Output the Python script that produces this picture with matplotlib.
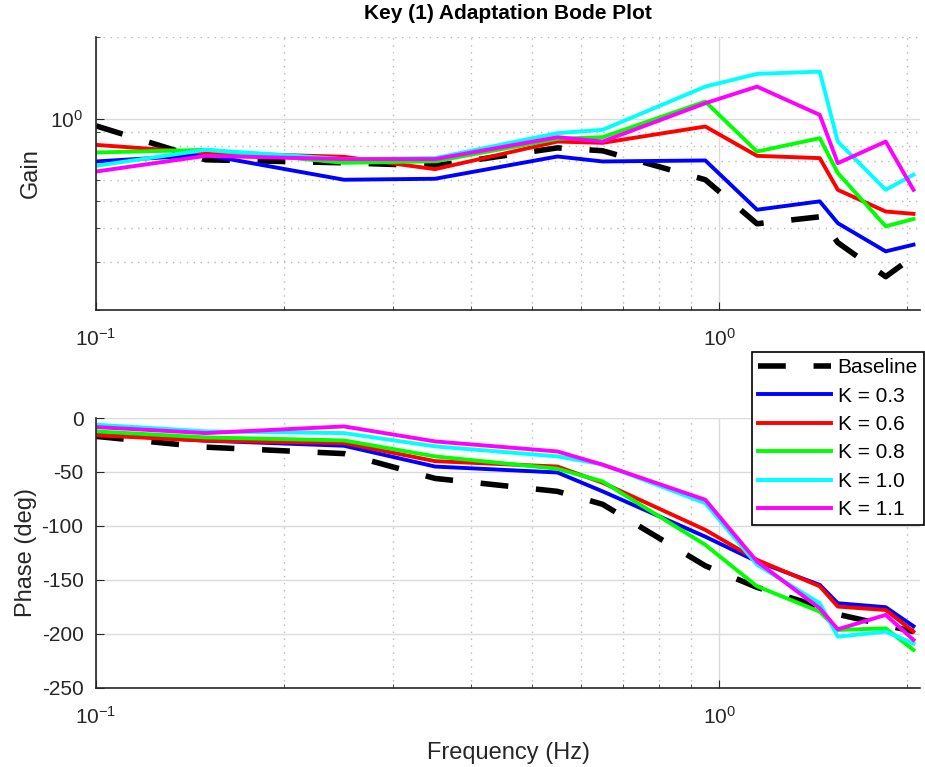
import numpy as np
import matplotlib.pyplot as plt
from matplotlib.ticker import NullFormatter

plt.rcParams['font.family'] = ['Liberation Sans', 'DejaVu Sans']
plt.rcParams['axes.unicode_minus'] = False

# frequency points (Hz)
freq = [0.1, 0.15, 0.25, 0.35, 0.55, 0.65, 0.95, 1.15, 1.45, 1.55, 1.85, 2.05]

# gain
gain_base = [0.945, 0.710, 0.692, 0.675, 0.785, 0.766, 0.600, 0.414, 0.439, 0.353, 0.265, 0.314]
gain_k03 = [0.700, 0.740, 0.600, 0.605, 0.730, 0.700, 0.706, 0.466, 0.500, 0.416, 0.328, 0.347]
gain_k06 = [0.805, 0.753, 0.728, 0.656, 0.828, 0.819, 0.940, 0.734, 0.720, 0.551, 0.459, 0.450]
gain_k08 = [0.755, 0.772, 0.692, 0.701, 0.847, 0.859, 1.160, 0.761, 0.852, 0.635, 0.405, 0.431]
gain_k10 = [0.675, 0.772, 0.714, 0.720, 0.889, 0.914, 1.316, 1.465, 1.493, 0.828, 0.551, 0.626]
gain_k11 = [0.643, 0.734, 0.714, 0.714, 0.859, 0.828, 1.144, 1.316, 1.037, 0.690, 0.828, 0.551]

# phase (deg)
phase_base = [-17, -27, -33, -56, -68, -80, -137, -157, -175, -182, -192, -198]
phase_k03 = [-15, -21, -25.7, -45, -50.5, -68, -110, -133, -154.7, -171.7, -175.4, -193]
phase_k06 = [-16, -21, -23.2, -40, -45, -60, -103.7, -131.5, -156, -174.8, -178, -198]
phase_k08 = [-12.4, -18, -20.8, -35.6, -47, -58.8, -117.6, -156, -179.5, -196.5, -195, -215]
phase_k10 = [-6.2, -12.4, -14, -26.3, -35.6, -43, -79, -136, -171.7, -202.7, -198, -209]
phase_k11 = [-8.4, -14, -7.8, -21.7, -31, -43.3, -75.8, -133, -176.4, -195.9, -182.5, -205.7]

labels = ['Baseline', 'K = 0.3', 'K = 0.6', 'K = 0.8', 'K = 1.0', 'K = 1.1']
colors = ['k', (0, 0, 1), (1, 0, 0), (0, 1, 0), (0, 1, 1), (1, 0, 1)]
gains = [gain_base, gain_k03, gain_k06, gain_k08, gain_k10, gain_k11]
phases = [phase_base, phase_k03, phase_k06, phase_k08, phase_k10, phase_k11]

txt = (0.15, 0.15, 0.15)

fig = plt.figure(figsize=(9.25, 7.67), dpi=100)
ax1 = fig.add_axes([0.1038, 0.5958, 0.8908, 0.356])
ax2 = fig.add_axes([0.1038, 0.1034, 0.8908, 0.3516])


def draw(ax, ys):
    for i in range(len(ys)):
        if i == 0:
            ax.plot(freq, ys[i], color=colors[i], lw=4, dashes=(5, 5),
                    dash_capstyle='butt', label=labels[i])
        else:
            ax.plot(freq, ys[i], color=colors[i], lw=2.8, label=labels[i])


def style(ax):
    ax.set_xscale('log')
    ax.set_xlim(0.1, 2.1)
    ax.xaxis.set_minor_formatter(NullFormatter())
    for s in ['top', 'right']:
        ax.spines[s].set_visible(False)
    for s in ['left', 'bottom']:
        ax.spines[s].set_color(txt)
        ax.spines[s].set_linewidth(1.2)
    ax.tick_params(which='both', direction='in', colors=txt, labelsize=15)
    ax.tick_params(which='major', length=6, pad=9)
    ax.tick_params(axis='x', which='major', pad=13)
    ax.tick_params(which='minor', length=3)
    ax.grid(which='major', color=(0.86, 0.86, 0.86), lw=1.0, ls='-')
    ax.set_axisbelow(True)


# gain plot
draw(ax1, gains)
style(ax1)
ax1.set_yscale('log')
ax1.set_ylim(0.2, 2)
ax1.yaxis.set_minor_formatter(NullFormatter())
ax1.grid(which='minor', color=(0.72, 0.72, 0.72), lw=1.0, ls=(0, (1, 4)))
ax1.set_ylabel('Gain', fontsize=17, color=txt, labelpad=6)
ax1.set_title('Key (1) Adaptation Bode Plot', fontsize=15, fontweight='bold',
              color='k', pad=13)

# phase plot
draw(ax2, phases)
style(ax2)
ax2.set_ylim(-250, 0)
ax2.set_yticks([0, -50, -100, -150, -200, -250])
ax2.xaxis.grid(which='minor', color=(0.72, 0.72, 0.72), lw=1.0, ls=(0, (1, 4)))
ax2.set_ylabel('Phase (deg)', fontsize=17, color=txt, labelpad=3)
ax2.set_xlabel('Frequency (Hz)', fontsize=17, color=txt, labelpad=10)

leg = ax2.legend(loc='upper right', bbox_to_anchor=(0.999, 0.541),
                 bbox_transform=fig.transFigure, fontsize=15, fancybox=False,
                 framealpha=1, edgecolor='k', borderaxespad=0, borderpad=0.3,
                 handlelength=3.5, handletextpad=0.3, labelspacing=0.45)
leg.get_frame().set_linewidth(1.2)

plt.savefig('out.png', dpi=100)
